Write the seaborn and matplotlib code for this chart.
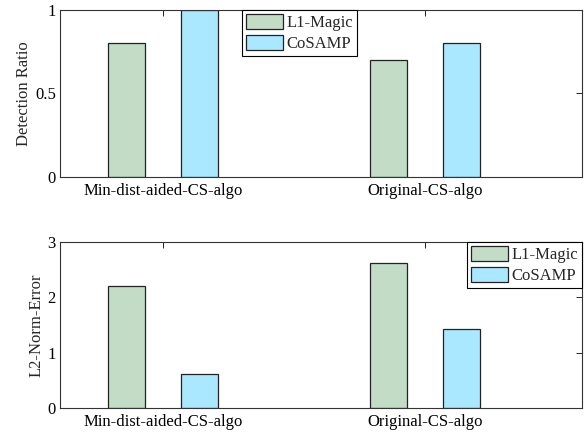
import matplotlib
matplotlib.use("Agg")
import matplotlib.pyplot as plt
import seaborn as sns
import pandas as pd

categories = ["Min-dist-aided-CS-algo", "Original-CS-algo"]
methods = ["L1-Magic", "CoSAMP"]
detection_l1 = [0.8, 0.7]
detection_cosamp = [1.0, 0.8]
error_l1 = [2.2, 2.62]
error_cosamp = [0.62, 1.43]

sns.set_theme(style="white")
plt.rcParams["font.family"] = ["Liberation Serif", "DejaVu Serif"]
plt.rcParams["font.size"] = 12

colors = {"L1-Magic": "#c2dcc6", "CoSAMP": "#aae8ff"}

def make_df(a, b):
    rows = []
    for c, v in zip(categories, a):
        rows.append({"cat": c, "method": methods[0], "val": v})
    for c, v in zip(categories, b):
        rows.append({"cat": c, "method": methods[1], "val": v})
    return pd.DataFrame(rows)

fig = plt.figure(figsize=(5.85, 4.32), dpi=100)
ax1 = fig.add_axes([0.1026, 0.5903, 0.892, 0.3866])
ax2 = fig.add_axes([0.1026, 0.0556, 0.892, 0.3843])

legend_bbox = {"upper center": (0.459, 1.0), "upper right": (1.0, 1.0)}

def draw(ax, df, ylabel, ylim, yticks, yticklabels, legend_loc):
    sns.barplot(data=df, x="cat", y="val", hue="method", hue_order=methods,
                order=categories, palette=colors, width=0.56, ax=ax,
                edgecolor="#222222", linewidth=0.9, errorbar=None, saturation=1)
    for p in ax.patches:
        if p.get_width() > 0:
            cx = p.get_x() + p.get_width() / 2
            p.set_width(0.14)
            p.set_x(cx - 0.07)
    ax.set_xlim(-0.393, 1.599)
    ax.set_ylim(*ylim)
    ax.set_yticks(yticks)
    ax.set_yticklabels(yticklabels)
    ax.set_xlabel("")
    ax.set_ylabel(ylabel, fontsize=12, labelpad=2)
    ax.tick_params(direction="in", top=True, right=True, length=4, width=0.6,
                   labelsize=12, colors="black", pad=3)
    ax.tick_params(axis="x", pad=4)
    for s in ax.spines.values():
        s.set_visible(True)
        s.set_color("#333333")
        s.set_linewidth(0.8)
    leg = ax.get_legend()
    if leg is not None:
        leg.remove()
    handles, labels = ax.get_legend_handles_labels()
    lg = ax.legend(handles, labels, loc=legend_loc, fontsize=12, frameon=True,
                   fancybox=False, framealpha=1, edgecolor="black",
                   handlelength=2.2, handleheight=0.95, handletextpad=0.2,
                   borderpad=0.25, labelspacing=0.25, borderaxespad=0.0,
                   bbox_to_anchor=legend_bbox[legend_loc], bbox_transform=ax.transAxes)
    lg.get_frame().set_linewidth(0.8)

draw(ax1, make_df(detection_l1, detection_cosamp), "Detection Ratio", (0, 1),
     [0, 0.5, 1], ["0", "0.5", "1"], "upper center")
draw(ax2, make_df(error_l1, error_cosamp), "L2-Norm-Error", (0, 3),
     [0, 1, 2, 3], ["0", "1", "2", "3"], "upper right")

fig.savefig("out.png", dpi=100)
